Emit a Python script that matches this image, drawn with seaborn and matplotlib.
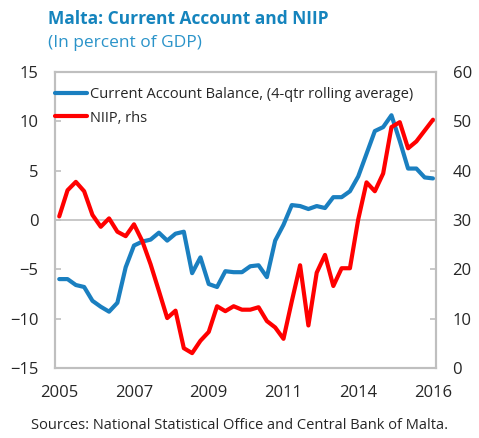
import numpy as np
import pandas as pd
import matplotlib
matplotlib.use("Agg")
import matplotlib.pyplot as plt
import seaborn as sns

# quarterly data, 2005Q1 - 2016Q2
current_account = [-6.0, -6.0, -6.6, -6.8, -8.2, -8.8, -9.3, -8.4, -4.8, -2.6,
                   -2.2, -2.0, -1.3, -2.1, -1.4, -1.2, -5.4, -3.8, -6.5, -6.8,
                   -5.2, -5.3, -5.3, -4.7, -4.6, -5.8, -2.1, -0.5, 1.5, 1.4,
                   1.1, 1.4, 1.2, 2.3, 2.3, 2.9, 4.4, 6.7, 9.0, 9.4,
                   10.6, 8.0, 5.2, 5.2, 4.3, 4.2]
niip = [30.7, 36.0, 37.7, 35.8, 31.0, 28.6, 30.3, 27.6, 26.7, 29.1,
        25.7, 21.0, 15.6, 10.1, 11.6, 4.0, 3.0, 5.5, 7.3, 12.5,
        11.5, 12.5, 11.8, 11.8, 12.3, 9.5, 8.2, 5.9, 13.5, 20.8,
        8.6, 19.3, 22.9, 16.6, 20.2, 20.2, 30.1, 37.6, 35.8, 39.4,
        48.8, 49.8, 44.5, 45.9, 48.1, 50.3]
tick_pos = [0, 9, 18, 27, 36, 45]
tick_labels = ["2005", "2007", "2009", "2011", "2014", "2016"]

df = pd.DataFrame({"q": np.arange(len(current_account)),
                   "ca": current_account, "niip": niip})

sns.set_style("white")
plt.rcParams['font.family'] = ['Open Sans', 'DejaVu Sans']

blue = "#1a7fc0"
red = "#ff0000"
grey = "#bfbfbf"

fig = plt.figure(figsize=(4.79, 4.38), dpi=100)
ax = fig.add_axes([0.115, 0.160, 0.795, 0.676])
ax2 = ax.twinx()

ax.axhline(0, color=grey, lw=1.2, zorder=1)
sns.lineplot(data=df, x="q", y="ca", ax=ax, color=blue, lw=3,
             label="Current Account Balance, (4-qtr rolling average)", legend=False)
sns.lineplot(data=df, x="q", y="niip", ax=ax2, color=red, lw=3,
             label="NIIP, rhs", legend=False)

ax.set_xlim(-0.5, 45.35)
ax.set_ylim(-15, 15)
ax2.set_ylim(0, 60)
ax.set_yticks(range(-15, 16, 5))
ax2.set_yticks(range(0, 61, 10))
ax.set_xticks(tick_pos)
ax.set_xticklabels(tick_labels)
ax.set_xlabel("")
ax.set_ylabel("")
ax2.set_ylabel("")

for a in (ax, ax2):
    for s in a.spines.values():
        s.set_color(grey)
        s.set_linewidth(1.5)
ax.tick_params(axis="y", direction="in", length=4, color=grey, width=1.2,
               labelsize=12, pad=12)
ax2.tick_params(axis="y", direction="in", length=4, color=grey, width=1.2,
                labelsize=12, pad=12)
ax.tick_params(axis="x", length=0, labelsize=12, pad=12)

# legend on the twin axes so it sits above both lines
h1, l1 = ax.get_legend_handles_labels()
h2, l2 = ax2.get_legend_handles_labels()
leg = ax2.legend(h1 + h2, l1 + l2, loc="upper left", bbox_to_anchor=(0, 0.948),
                 frameon=False, fontsize=10.5, handlelength=2.2, handletextpad=0.2,
                 borderaxespad=0, borderpad=0, labelspacing=0.57)

fig.text(0.10, 0.945, "Malta: Current Account and NIIP", color="#1584bd",
         fontsize=12.5, fontweight="bold")
fig.text(0.10, 0.892, "(In percent of GDP)", color="#2a93c9", fontsize=12.5)
fig.text(0.5, 0.012, "Sources: National Statistical Office and Central Bank of Malta.",
         ha="center", va="bottom", fontsize=10.5)

fig.savefig("out.png", dpi=100)
